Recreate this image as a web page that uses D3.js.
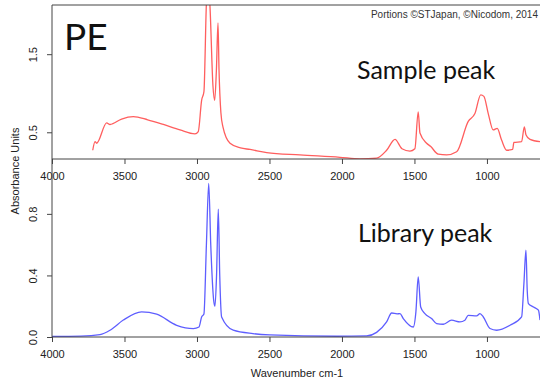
<!DOCTYPE html>
<html>
<head>
<meta charset="utf-8">
<script src="https://cdn.jsdelivr.net/npm/d3@7"></script>
<style>
  body { margin: 0; background: #fff; }
  .axis text { font-family: "Liberation Sans", Arial, sans-serif; font-size: 11px; fill: #222; }
  .axis line { stroke: #444; }
  .big { font-family: Lato, "Open Sans", sans-serif; fill: #111; }
</style>
</head>
<body>
<div id="chart"></div>
<script>
// sample spectrum (red, top panel)
var sampleWn = [3719, 3703, 3692, 3623, 3600, 3520, 3439, 3340, 3232, 3117, 3014, 2991, 2968, 2952, 2935, 2922, 2910, 2890, 2878, 2866, 2855, 2848, 2835, 2821, 2772, 2700, 2634, 2519, 2290, 2014, 1876, 1761, 1692, 1634, 1586, 1531, 1497, 1474, 1462, 1416, 1389, 1336, 1278, 1209, 1129, 1083, 1043, 1021, 991, 957, 929, 899, 864, 823, 814, 761, 742, 731, 703, 634];
var sampleAbs = [0.27, 0.38, 0.36, 0.62, 0.60, 0.67, 0.70, 0.66, 0.60, 0.53, 0.48, 0.51, 0.91, 1.02, 2.15, 2.45, 2.10, 1.10, 0.91, 1.30, 1.90, 1.30, 0.75, 0.57, 0.36, 0.30, 0.28, 0.24, 0.21, 0.18, 0.16, 0.17, 0.27, 0.41, 0.29, 0.26, 0.29, 0.76, 0.49, 0.36, 0.32, 0.22, 0.21, 0.25, 0.64, 0.74, 0.98, 0.96, 0.74, 0.53, 0.55, 0.40, 0.27, 0.28, 0.37, 0.38, 0.57, 0.47, 0.41, 0.38];

// library spectrum (blue, bottom panel)
var libraryWn = [4000, 3800, 3669, 3600, 3508, 3382, 3278, 3140, 3025, 2986, 2968, 2952, 2935, 2919, 2905, 2885, 2876, 2865, 2853, 2843, 2830, 2750, 2614, 2497, 2036, 1830, 1761, 1692, 1657, 1620, 1600, 1577, 1508, 1490, 1474, 1457, 1428, 1382, 1347, 1301, 1244, 1186, 1152, 1129, 1071, 1048, 1025, 979, 933, 841, 761, 745, 731, 722, 714, 679, 645, 634];
var libraryAbs = [0.004, 0.006, 0.016, 0.044, 0.11, 0.163, 0.148, 0.076, 0.055, 0.065, 0.13, 0.15, 0.6, 0.998, 0.6, 0.24, 0.20, 0.4, 0.83, 0.4, 0.13, 0.044, 0.022, 0.014, 0.005, 0.007, 0.03, 0.098, 0.156, 0.15, 0.152, 0.12, 0.065, 0.163, 0.39, 0.195, 0.152, 0.12, 0.087, 0.083, 0.109, 0.098, 0.109, 0.141, 0.137, 0.152, 0.13, 0.055, 0.044, 0.076, 0.13, 0.347, 0.564, 0.3, 0.217, 0.195, 0.174, 0.11];

var xTicks = [4000, 3500, 3000, 2500, 2000, 1500, 1000];
var topYTicks = [0.5, 1.5];
var botYTicks = [0.0, 0.4, 0.8];

var width = 540, height = 385;
var left = 52, right = 540;
var topY0 = 5, topY1 = 159;
var botY0 = 180, botY1 = 337;

var svg = d3.select('#chart').append('svg')
  .attr('width', width)
  .attr('height', height);

svg.append('rect').attr('width', width).attr('height', height).attr('fill', '#fff');

var x = d3.scaleLinear().domain([4000, 634]).range([left, right]);
var yTop = d3.scaleLinear().domain([0.158, 2.13]).range([topY1, topY0]);
var yBot = d3.scaleLinear().domain([0, 1.02]).range([botY1, botY0]);

svg.append('clipPath').attr('id', 'topclip')
  .append('rect')
  .attr('x', left).attr('y', topY0)
  .attr('width', right - left).attr('height', topY1 - topY0);

var sampleData = sampleWn.map(function(w, i) { return {w: w, v: sampleAbs[i]}; });
var libraryData = libraryWn.map(function(w, i) { return {w: w, v: libraryAbs[i]}; });

var lineTop = d3.line().x(d => x(d.w)).y(d => yTop(d.v)).curve(d3.curveMonotoneX);
var lineBot = d3.line().x(d => x(d.w)).y(d => yBot(d.v)).curve(d3.curveMonotoneX);

svg.append('path')
  .datum(sampleData)
  .attr('clip-path', 'url(#topclip)')
  .attr('d', lineTop)
  .attr('fill', 'none')
  .attr('stroke', '#ff5e5e')
  .attr('stroke-width', 1.3);

svg.append('path')
  .datum(libraryData)
  .attr('d', lineBot)
  .attr('fill', 'none')
  .attr('stroke', '#5e5eff')
  .attr('stroke-width', 1.3);

// x axes
function xAxis(yPos) {
  var g = svg.append('g')
    .attr('class', 'axis')
    .attr('transform', 'translate(0,' + yPos + ')')
    .call(d3.axisBottom(x).tickValues(xTicks).tickSize(5).tickPadding(8).tickFormat(d3.format('d')));
  g.select('.domain').remove();
  return g;
}
xAxis(topY1);
xAxis(botY1);

// y axes, labels rotated like R
function yAxis(scale, ticks) {
  var g = svg.append('g')
    .attr('class', 'axis')
    .attr('transform', 'translate(' + left + ',0)')
    .call(d3.axisLeft(scale).tickValues(ticks).tickSize(5).tickFormat(d3.format('.1f')));
  g.select('.domain').remove();
  g.selectAll('text')
    .attr('x', 0)
    .attr('y', -15)
    .attr('dy', 0)
    .attr('text-anchor', 'middle')
    .attr('transform', 'rotate(-90)');
}
yAxis(yTop, topYTicks);
yAxis(yBot, botYTicks);

// frame lines
var frame = svg.append('g').attr('stroke', '#444').attr('stroke-width', 1).attr('fill', 'none');
frame.append('line').attr('x1', left).attr('x2', right).attr('y1', topY0).attr('y2', topY0);
frame.append('line').attr('x1', left).attr('x2', left).attr('y1', topY0).attr('y2', botY1);
frame.append('line').attr('x1', left).attr('x2', right).attr('y1', topY1).attr('y2', topY1);
frame.append('line').attr('x1', left).attr('x2', right).attr('y1', botY1).attr('y2', botY1);

// axis titles
svg.append('text')
  .attr('transform', 'translate(19,171) rotate(-90)')
  .attr('text-anchor', 'middle')
  .style('font-family', '"Liberation Sans", Arial, sans-serif')
  .style('font-size', '11px')
  .attr('fill', '#222')
  .text('Absorbance Units');

svg.append('text')
  .attr('x', 297)
  .attr('y', 377)
  .attr('text-anchor', 'middle')
  .style('font-family', '"Liberation Sans", Arial, sans-serif')
  .style('font-size', '11px')
  .attr('fill', '#222')
  .text('Wavenumber cm-1');

svg.append('text')
  .attr('x', 538)
  .attr('y', 18)
  .attr('text-anchor', 'end')
  .style('font-family', '"Liberation Sans", Arial, sans-serif')
  .style('font-size', '10px')
  .attr('fill', '#333')
  .text('Portions \u00a9STJapan, \u00a9Nicodom, 2014');

// annotations
svg.append('text').attr('class', 'big')
  .attr('x', 64).attr('y', 50)
  .style('font-size', '37px')
  .text('PE');

svg.append('text').attr('class', 'big')
  .attr('x', 357).attr('y', 79)
  .style('font-size', '25px')
  .text('Sample peak');

svg.append('text').attr('class', 'big')
  .attr('x', 358).attr('y', 242)
  .style('font-size', '25px')
  .text('Library peak');
</script>
</body>
</html>
